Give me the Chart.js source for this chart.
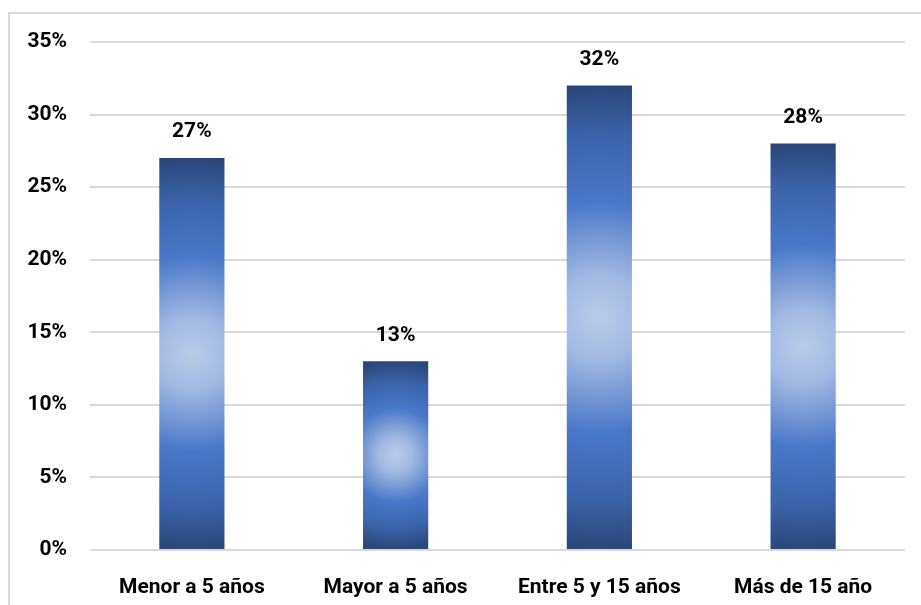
<!DOCTYPE html>
<html>
<head>
<meta charset="utf-8">
<script src="https://cdn.jsdelivr.net/npm/chart.js@4.4.0/dist/chart.umd.min.js"></script>
<style>
  html, body { margin: 0; padding: 0; background: #fff; }
  #wrap { position: relative; width: 921px; height: 605px; overflow: hidden; }
  #frame { position: absolute; left: 8px; top: 12px; width: 960px; height: 700px; border: 2px solid #d9d9d9; box-sizing: border-box; }
  #chart { position: absolute; left: 0; top: 0; }
</style>
</head>
<body>
<div id="wrap">
  <div id="frame"></div>
  <canvas id="chart" width="921" height="605"></canvas>
</div>
<script>
// data
var categories = ['Menor a 5 años', 'Mayor a 5 años', 'Entre 5 y 15 años', 'Más de 15 año'];
var values = [27, 13, 32, 28];
var yTicks = [0, 5, 10, 15, 20, 25, 30, 35];

var FONT = 'Roboto, "Open Sans", sans-serif';

// radial fill for each bar, light in the middle, dark at the ends
var gradientPlugin = {
    id: 'barGradient',
    beforeDatasetsDraw: function(chart) {
        var c = chart.ctx;
        chart.getDatasetMeta(0).data.forEach(function(bar) {
            var top = Math.min(bar.y, bar.base), bot = Math.max(bar.y, bar.base);
            var cy = (top + bot) / 2;
            var r = (bot - top) / 2;
            var g = c.createRadialGradient(bar.x, cy, 0, bar.x, cy, r);
            g.addColorStop(0, '#b9cbea');
            g.addColorStop(0.18, '#a2b9e2');
            g.addColorStop(0.5, '#4a78c9');
            g.addColorStop(0.8, '#3a62a8');
            g.addColorStop(1, '#2a4779');
            bar.options.backgroundColor = g;
        });
    }
};

var labelPlugin = {
    id: 'valueLabels',
    afterDatasetsDraw: function(chart) {
        var c = chart.ctx;
        var meta = chart.getDatasetMeta(0);
        c.save();
        c.font = 'bold 21px ' + FONT;
        c.fillStyle = '#000';
        c.textAlign = 'center';
        c.textBaseline = 'middle';
        meta.data.forEach(function(bar, i) {
            c.fillText(values[i] + '%', bar.x, bar.y - 26);
        });
        c.restore();
    }
};

var chart = new Chart(document.getElementById('chart'), {
    type: 'bar',
    data: {
        labels: categories,
        datasets: [{
            data: values,
            // scriptable so every bar keeps its own options object
            backgroundColor: function() { return '#4472c4'; },
            borderWidth: 0,
            barPercentage: 0.32,
            categoryPercentage: 1
        }]
    },
    options: {
        responsive: false,
        animation: false,
        layout: { padding: { left: 0, right: 16, top: 42, bottom: 0 } },
        plugins: {
            legend: { display: false },
            tooltip: { enabled: false }
        },
        scales: {
            x: {
                grid: { display: false },
                border: { display: false },
                ticks: {
                    color: '#000',
                    font: { family: FONT, size: 21, weight: 'bold' },
                    padding: 17,
                    maxRotation: 0
                },
                afterFit: function(scale) { scale.height = 55; }
            },
            y: {
                min: 0,
                max: 35,
                afterBuildTicks: function(scale) {
                    scale.ticks = yTicks.map(function(v) { return { value: v }; });
                },
                grid: { color: '#d9d9d9', lineWidth: 2, drawTicks: false },
                border: { display: false },
                ticks: {
                    color: '#000',
                    font: { family: FONT, size: 21, weight: 'bold' },
                    padding: 23,
                    callback: function(v) { return v + '%'; }
                },
                afterFit: function(scale) { scale.width = 90; }
            }
        }
    },
    plugins: [gradientPlugin, labelPlugin]
});
</script>
</body>
</html>
